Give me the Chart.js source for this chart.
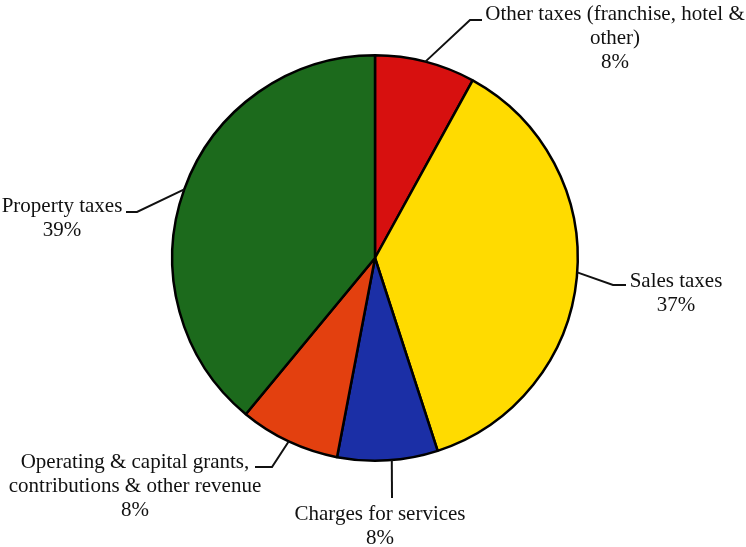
<!DOCTYPE html>
<html>
<head>
<meta charset="utf-8">
<script src="https://cdn.jsdelivr.net/npm/chart.js@4"></script>
<style>
  html, body { margin: 0; padding: 0; background: #fff; }
  #wrap { width: 746px; height: 547px; }
</style>
</head>
<body>
<div id="wrap"><canvas id="pieChart" width="746" height="547"></canvas></div>
<script>
const categories = [
  'Other taxes (franchise, hotel & other)',
  'Sales taxes',
  'Charges for services',
  'Operating & capital grants, contributions & other revenue',
  'Property taxes'
];
const shares = [8, 37, 8, 8, 39];
const sliceColors = ['#d7100f', '#ffdb00', '#1b2fa6', '#e3400f', '#1c6a1c'];

// label text lines, same order as categories
const labelLines = [
  ['Other taxes (franchise, hotel &', 'other)', '8%'],
  ['Sales taxes', '37%'],
  ['Charges for services', '8%'],
  ['Operating & capital grants,', 'contributions & other revenue', '8%'],
  ['Property taxes', '39%']
];

// where each leader line leaves the slice (fraction of its arc) and where it goes
const callouts = [
  { at: 0.5, path: [[470, 20], [482, 20]], text: { x: 615, y: 14 } },
  { at: 0.49, path: [[613, 285], [626, 285]], text: { x: 676, y: 281 } },
  { at: 0.46, path: [[392, 498]], text: { x: 380, y: 514 } },
  { at: 0.5, path: [[272, 467], [255, 467]], text: { x: 135, y: 462 } },
  { at: 0.5, path: [[137, 212], [126, 212]], text: { x: 62, y: 206 } }
];

const leaderLabels = {
  id: 'leaderLabels',
  afterDraw(chart) {
    const ctx = chart.ctx;
    const arcs = chart.getDatasetMeta(0).data;
    ctx.save();
    ctx.strokeStyle = '#111';
    ctx.lineWidth = 2;
    ctx.fillStyle = '#111';
    ctx.font = "21px 'Liberation Serif', 'Times New Roman', serif";
    ctx.textAlign = 'center';
    ctx.textBaseline = 'middle';
    arcs.forEach((arc, i) => {
      const c = callouts[i];
      const a = arc.startAngle + (arc.endAngle - arc.startAngle) * c.at;
      const x0 = arc.x + Math.cos(a) * arc.outerRadius;
      const y0 = arc.y + Math.sin(a) * arc.outerRadius;
      ctx.beginPath();
      ctx.moveTo(x0, y0);
      c.path.forEach(p => ctx.lineTo(p[0], p[1]));
      ctx.stroke();
      labelLines[i].forEach((line, j) => {
        ctx.fillText(line, c.text.x, c.text.y + j * 24);
      });
    });
    ctx.restore();
  }
};

new Chart(document.getElementById('pieChart'), {
  type: 'pie',
  data: {
    labels: categories,
    datasets: [{
      data: shares,
      backgroundColor: sliceColors,
      borderColor: '#000',
      borderWidth: 2.5
    }]
  },
  options: {
    responsive: false,
    animation: false,
    layout: { padding: { top: 54, bottom: 85, left: 100, right: 96 } },
    plugins: {
      legend: { display: false },
      tooltip: { enabled: false }
    }
  },
  plugins: [leaderLabels]
});
</script>
</body>
</html>
